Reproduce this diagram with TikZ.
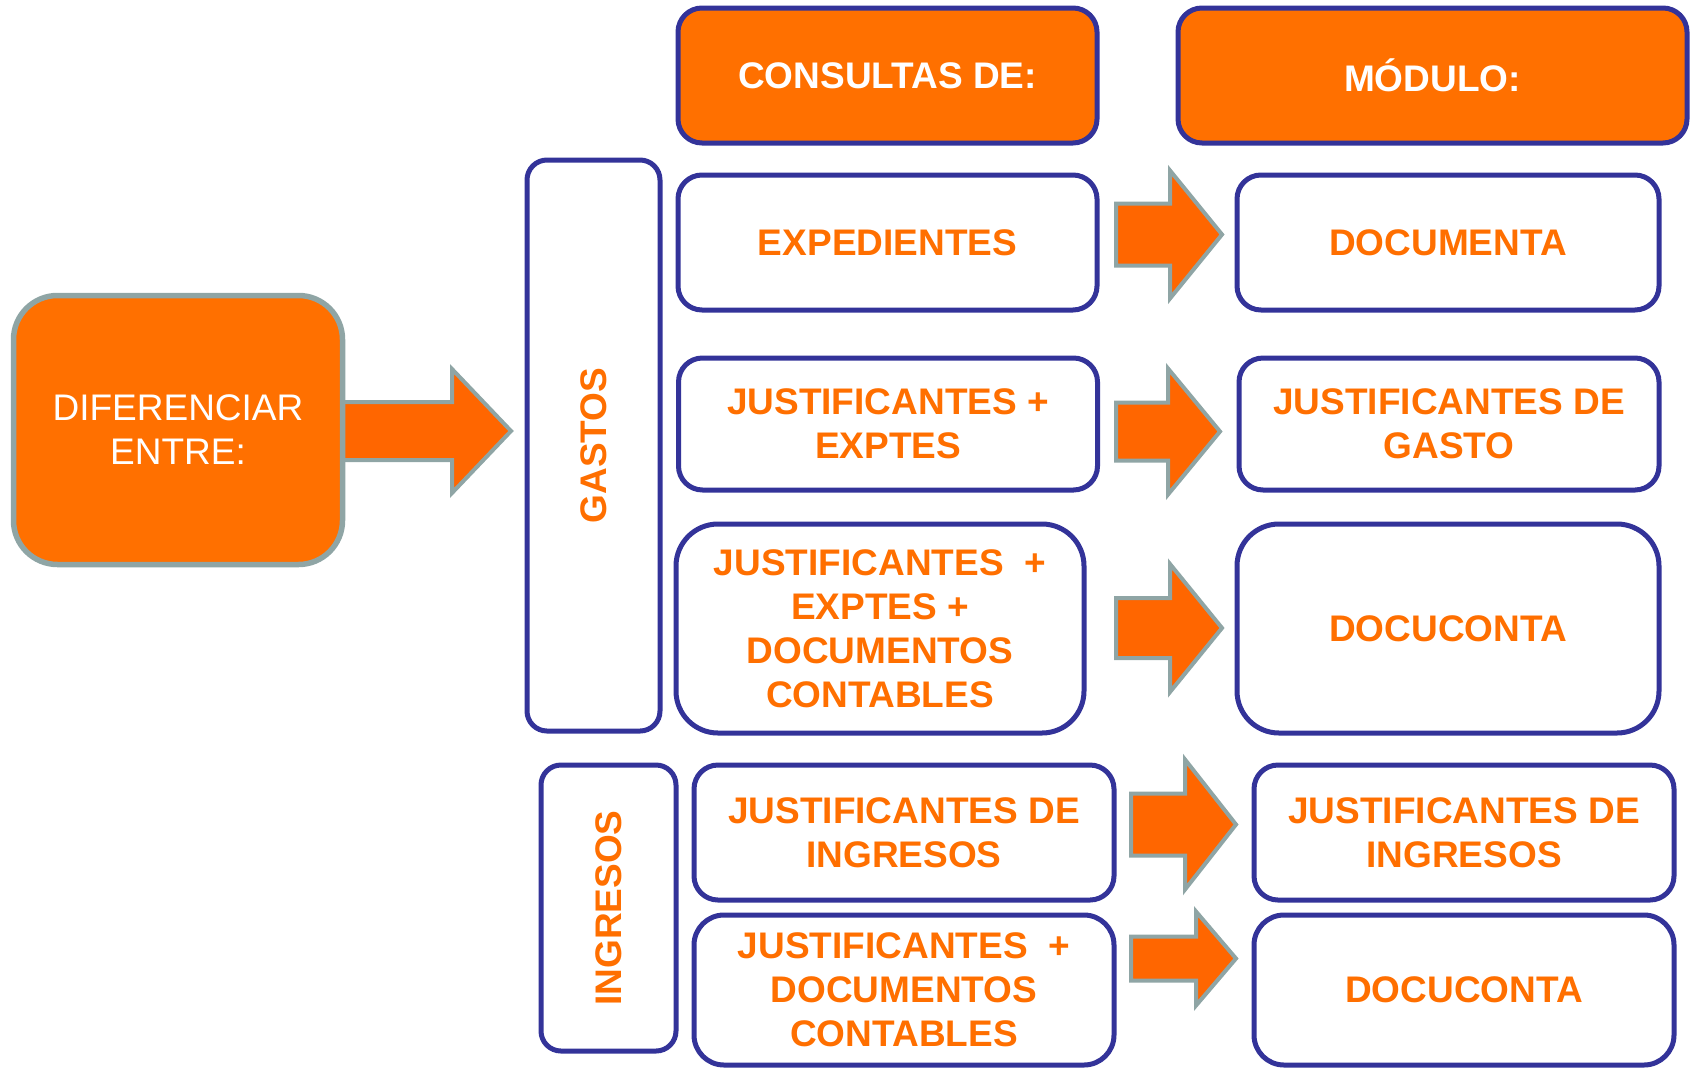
\documentclass[tikz,border=0pt]{standalone}
\usepackage{fontspec}
\setmainfont{Liberation Sans}
\definecolor{orfill}{HTML}{FF7000}
\definecolor{arfill}{HTML}{FF6600}
\definecolor{ortext}{HTML}{FF6F00}
\definecolor{navy}{HTML}{333399}
\definecolor{greyb}{HTML}{8FA5A5}
\tikzset{
  box/.style={draw=navy, line width=5pt, rounded corners=24pt, fill=white, text=ortext,
    font=\bfseries\fontsize{37}{44}\selectfont, align=center, inner sep=0pt},
  hbox/.style={box, fill=orfill, text=white},
  bigbox/.style={box, rounded corners=42pt},
  blockarrow/.style={draw=greyb, line width=4pt, fill=arfill, line join=miter}
}
% #1 shaft left, #2 head base, #3 tip, #4 centre y, #5 shaft half, #6 head half
\newcommand\myblockarrow[6]{%
  \draw[blockarrow] (#1,#4-#5) -- (#2,#4-#5) -- (#2,#4-#6) -- (#3,#4) --
    (#2,#4+#6) -- (#2,#4+#5) -- (#1,#4+#5) -- cycle;}
\begin{document}
\begin{tikzpicture}[x=1pt,y=-1pt]
\useasboundingbox (0,0) rectangle (1691,1069);
% big arrow
\myblockarrow{330}{452}{511}{431}{29}{62}
% left box
\node[draw=greyb, line width=5.5pt, fill=orfill, rounded corners=44pt, text=white,
  font=\fontsize{37}{44}\selectfont, align=center, minimum width=329pt, minimum height=269pt,
  inner sep=0pt] (diff) at (178,430) {DIFERENCIAR\\ENTRE:};
% headers
\node[hbox, minimum width=419pt, minimum height=135pt] (cons) at (887.5,75.5) {CONSULTAS DE:};
\node[hbox, minimum width=509pt, minimum height=135pt] (mod) at (1432.5,75.5) {MÓDULO:};
% group boxes
\node[box, rotate=90, rounded corners=20pt, minimum width=571pt, minimum height=133pt] (gastos) at (593.5,445.5) {GASTOS};
\node[box, rotate=90, rounded corners=20pt, minimum width=286pt, minimum height=135pt] (ingresos) at (608.5,908) {INGRESOS};
% row boxes
\node[box, minimum width=419pt, minimum height=135pt] (exp) at (887.5,242.5) {EXPEDIENTES};
\node[box, minimum width=422pt, minimum height=135pt] (docu) at (1448,242.5) {DOCUMENTA};
\node[box, minimum width=419pt, minimum height=132pt] (jexp) at (888,424) {JUSTIFICANTES +\\EXPTES};
\node[box, minimum width=420pt, minimum height=132pt] (jgas) at (1449,424) {JUSTIFICANTES DE\\GASTO};
\node[bigbox, minimum width=408pt, minimum height=209pt] (jexpdoc) at (880,628.5) {JUSTIFICANTES\ \ +\\EXPTES +\\DOCUMENTOS\\CONTABLES};
\node[bigbox, minimum width=422pt, minimum height=209pt] (dc1) at (1448,628.5) {DOCUCONTA};
\node[box, minimum width=420pt, minimum height=135pt] (jing) at (904,832.5) {JUSTIFICANTES DE\\INGRESOS};
\node[box, minimum width=420pt, minimum height=135pt] (jing2) at (1464,832.5) {JUSTIFICANTES DE\\INGRESOS};
\node[box, rounded corners=30pt, minimum width=420pt, minimum height=150pt] (jdoc) at (904,990) {JUSTIFICANTES\ \ +\\DOCUMENTOS\\CONTABLES};
\node[box, rounded corners=30pt, minimum width=420pt, minimum height=150pt] (dc2) at (1464,990) {DOCUCONTA};
% arrows
\myblockarrow{1116}{1170}{1222}{234.5}{31}{64}
\myblockarrow{1116}{1168}{1220}{431.5}{29}{63}
\myblockarrow{1116}{1170}{1222}{628}{30}{64}
\myblockarrow{1131}{1185}{1236}{824.5}{31}{65}
\myblockarrow{1131}{1196}{1236}{958.5}{22}{47}
\end{tikzpicture}
\end{document}
